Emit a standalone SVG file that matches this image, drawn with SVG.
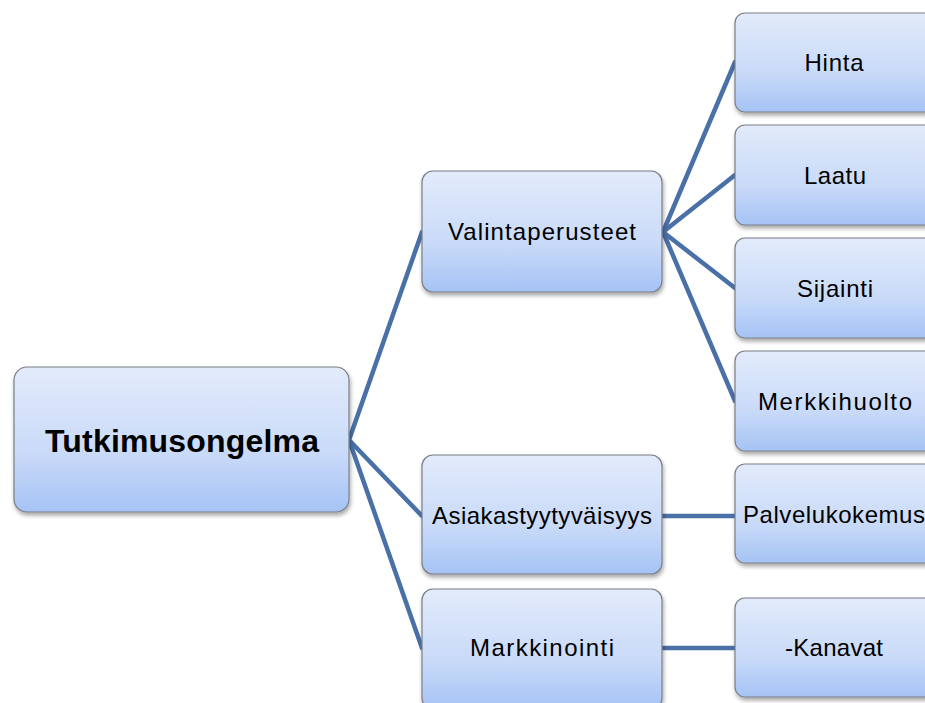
<svg xmlns="http://www.w3.org/2000/svg" width="925" height="703" viewBox="0 0 925 703">
<defs>
<linearGradient id="g" x1="0" y1="0" x2="0" y2="1">
<stop offset="0" stop-color="#e2ebfb"/>
<stop offset="0.6" stop-color="#c9daf8"/>
<stop offset="1" stop-color="#a5c3f5"/>
</linearGradient>
<filter id="sh" x="-10%" y="-10%" width="125%" height="130%">
<feGaussianBlur in="SourceAlpha" stdDeviation="2"/>
<feOffset dx="1" dy="3" result="b"/>
<feComponentTransfer><feFuncA type="linear" slope="0.35"/></feComponentTransfer>
<feMerge><feMergeNode/><feMergeNode in="SourceGraphic"/></feMerge>
</filter>
</defs>
<style>
.box{fill:url(#g);stroke:#7a7f88;stroke-width:1.2;filter:url(#sh)}
.t{font-family:"Liberation Sans",Arial,sans-serif;font-size:24px;fill:#000;text-anchor:middle}
.b{font-weight:bold;font-size:32px}
.c{fill:none;stroke:#4a70a8;stroke-width:4.5;stroke-linecap:round}
</style>
<rect width="925" height="703" fill="#fff"/>
<g id="connectors">
<path class="c" d="M349 440 L422 232 M349 440 L422 516 M349 440 L422 648"/>
<path class="c" d="M663 232 L735 62 M663 232 L735 175 M663 232 L735 288 M663 232 L735 401"/>
<path class="c" d="M663 516 L735 516 M663 648 L735 648"/>
</g>
<g id="n-root"><rect class="box" x="14" y="367" width="335" height="145" rx="13"/><text class="t b" x="182" y="452" textLength="274">Tutkimusongelma</text></g>
<g id="n-valinta"><rect class="box" x="422" y="171" width="240" height="121" rx="11"/><text class="t" x="542" y="240" textLength="188">Valintaperusteet</text></g>
<g id="n-asiakas"><rect class="box" x="422" y="455" width="240" height="119" rx="11"/><text class="t" x="542" y="524" textLength="220">Asiakastyytyväisyys</text></g>
<g id="n-markk"><rect class="box" x="422" y="589" width="240" height="120" rx="11"/><text class="t" x="542" y="656" textLength="144">Markkinointi</text></g>
<g id="n-hinta"><rect class="box" x="735" y="13" width="200" height="99" rx="10"/><text class="t" x="834" y="71" textLength="59">Hinta</text></g>
<g id="n-laatu"><rect class="box" x="735" y="125" width="200" height="100" rx="10"/><text class="t" x="835" y="184" textLength="62">Laatu</text></g>
<g id="n-sijainti"><rect class="box" x="735" y="238" width="200" height="100" rx="10"/><text class="t" x="835" y="297" textLength="76">Sijainti</text></g>
<g id="n-merkki"><rect class="box" x="735" y="351" width="200" height="100" rx="10"/><text class="t" x="835" y="410" textLength="154">Merkkihuolto</text></g>
<g id="n-palvelu"><rect class="box" x="735" y="464" width="200" height="99" rx="10"/><text class="t" x="834" y="523" textLength="182">Palvelukokemus</text></g>
<g id="n-kanavat"><rect class="box" x="735" y="598" width="200" height="99" rx="10"/><text class="t" x="834" y="656" textLength="98">-Kanavat</text></g>
</svg>
